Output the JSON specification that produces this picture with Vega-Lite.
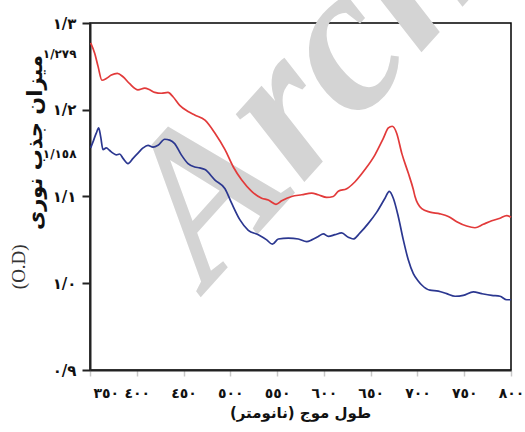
{
  "$schema": "https://vega.github.io/schema/vega-lite/v6.json",
  "autosize": {"type": "none"},
  "padding": {"left": 90, "top": 23, "right": 14, "bottom": 62},
  "width": 421,
  "height": 347,
  "background": "white",
  "config": {
    "view": {"stroke": "black", "strokeWidth": 1.5},
    "font": "DejaVu Sans"
  },
  "datasets": {
    "spectra": [
      {"nm": 350.7, "od": 1.277, "s": "a"}, {"nm": 355, "od": 1.265, "s": "a"}, {"nm": 358.6, "od": 1.25, "s": "a"}, {"nm": 362.8, "od": 1.234, "s": "a"}, {"nm": 367.4, "od": 1.236, "s": "a"}, {"nm": 372.8, "od": 1.24, "s": "a"}, {"nm": 379.2, "od": 1.242, "s": "a"}, {"nm": 385.3, "od": 1.238, "s": "a"}, {"nm": 392.4, "od": 1.23, "s": "a"}, {"nm": 401.3, "od": 1.223, "s": "a"}, {"nm": 408.5, "od": 1.225, "s": "a"}, {"nm": 413.8, "od": 1.223, "s": "a"}, {"nm": 419.2, "od": 1.22, "s": "a"}, {"nm": 426.2, "od": 1.219, "s": "a"}, {"nm": 433.4, "od": 1.22, "s": "a"}, {"nm": 438.7, "od": 1.215, "s": "a"}, {"nm": 445.9, "od": 1.205, "s": "a"}, {"nm": 454.8, "od": 1.198, "s": "a"}, {"nm": 461.9, "od": 1.194, "s": "a"}, {"nm": 472.9, "od": 1.188, "s": "a"}, {"nm": 483.6, "od": 1.173, "s": "a"}, {"nm": 494.3, "od": 1.154, "s": "a"}, {"nm": 503.2, "od": 1.134, "s": "a"}, {"nm": 512.2, "od": 1.119, "s": "a"}, {"nm": 522.8, "od": 1.106, "s": "a"}, {"nm": 533.5, "od": 1.098, "s": "a"}, {"nm": 540.6, "od": 1.096, "s": "a"}, {"nm": 548.8, "od": 1.091, "s": "a"}, {"nm": 554.9, "od": 1.095, "s": "a"}, {"nm": 565.6, "od": 1.1, "s": "a"}, {"nm": 576.3, "od": 1.102, "s": "a"}, {"nm": 587, "od": 1.104, "s": "a"}, {"nm": 594, "od": 1.102, "s": "a"}, {"nm": 603, "od": 1.099, "s": "a"}, {"nm": 610, "od": 1.1, "s": "a"}, {"nm": 615.4, "od": 1.106, "s": "a"}, {"nm": 624.4, "od": 1.109, "s": "a"}, {"nm": 633.3, "od": 1.117, "s": "a"}, {"nm": 643.9, "od": 1.131, "s": "a"}, {"nm": 654.6, "od": 1.148, "s": "a"}, {"nm": 663.5, "od": 1.167, "s": "a"}, {"nm": 668.9, "od": 1.179, "s": "a"}, {"nm": 673.1, "od": 1.181, "s": "a"}, {"nm": 677.8, "od": 1.173, "s": "a"}, {"nm": 683.2, "od": 1.15, "s": "a"}, {"nm": 690.2, "od": 1.127, "s": "a"}, {"nm": 695.6, "od": 1.108, "s": "a"}, {"nm": 697.4, "od": 1.1, "s": "a"}, {"nm": 704.6, "od": 1.086, "s": "a"}, {"nm": 713.4, "od": 1.082, "s": "a"}, {"nm": 724.1, "od": 1.08, "s": "a"}, {"nm": 733, "od": 1.077, "s": "a"}, {"nm": 742, "od": 1.071, "s": "a"}, {"nm": 752.6, "od": 1.066, "s": "a"}, {"nm": 761.5, "od": 1.064, "s": "a"}, {"nm": 770.4, "od": 1.068, "s": "a"}, {"nm": 779.4, "od": 1.072, "s": "a"}, {"nm": 788.3, "od": 1.075, "s": "a"}, {"nm": 795.4, "od": 1.078, "s": "a"}, {"nm": 800, "od": 1.076, "s": "a"},
      {"nm": 350.7, "od": 1.156, "s": "b"}, {"nm": 353.2, "od": 1.163, "s": "b"}, {"nm": 356.7, "od": 1.173, "s": "b"}, {"nm": 359.3, "od": 1.179, "s": "b"}, {"nm": 361.4, "od": 1.169, "s": "b"}, {"nm": 363.9, "od": 1.154, "s": "b"}, {"nm": 367.4, "od": 1.156, "s": "b"}, {"nm": 371.1, "od": 1.153, "s": "b"}, {"nm": 374.6, "od": 1.15, "s": "b"}, {"nm": 378.1, "od": 1.148, "s": "b"}, {"nm": 381.7, "od": 1.149, "s": "b"}, {"nm": 385.3, "od": 1.144, "s": "b"}, {"nm": 390.6, "od": 1.138, "s": "b"}, {"nm": 396, "od": 1.144, "s": "b"}, {"nm": 401.3, "od": 1.15, "s": "b"}, {"nm": 406.7, "od": 1.156, "s": "b"}, {"nm": 412, "od": 1.159, "s": "b"}, {"nm": 417.3, "od": 1.157, "s": "b"}, {"nm": 422.7, "od": 1.159, "s": "b"}, {"nm": 429.8, "od": 1.166, "s": "b"}, {"nm": 435.2, "od": 1.165, "s": "b"}, {"nm": 440.5, "od": 1.161, "s": "b"}, {"nm": 447.6, "od": 1.148, "s": "b"}, {"nm": 454.8, "od": 1.138, "s": "b"}, {"nm": 461.9, "od": 1.134, "s": "b"}, {"nm": 467.3, "od": 1.133, "s": "b"}, {"nm": 472.9, "od": 1.131, "s": "b"}, {"nm": 483.6, "od": 1.119, "s": "b"}, {"nm": 494.3, "od": 1.109, "s": "b"}, {"nm": 501.5, "od": 1.092, "s": "b"}, {"nm": 510.3, "od": 1.073, "s": "b"}, {"nm": 519.2, "od": 1.061, "s": "b"}, {"nm": 529.9, "od": 1.056, "s": "b"}, {"nm": 538.9, "od": 1.05, "s": "b"}, {"nm": 544.9, "od": 1.045, "s": "b"}, {"nm": 551.3, "od": 1.051, "s": "b"}, {"nm": 562, "od": 1.052, "s": "b"}, {"nm": 572.7, "od": 1.051, "s": "b"}, {"nm": 581.6, "od": 1.048, "s": "b"}, {"nm": 587, "od": 1.05, "s": "b"}, {"nm": 594, "od": 1.054, "s": "b"}, {"nm": 599.4, "od": 1.057, "s": "b"}, {"nm": 604.7, "od": 1.054, "s": "b"}, {"nm": 611.9, "od": 1.056, "s": "b"}, {"nm": 619, "od": 1.058, "s": "b"}, {"nm": 626.1, "od": 1.053, "s": "b"}, {"nm": 631.4, "od": 1.051, "s": "b"}, {"nm": 638.6, "od": 1.058, "s": "b"}, {"nm": 647.5, "od": 1.069, "s": "b"}, {"nm": 656.5, "od": 1.082, "s": "b"}, {"nm": 665.3, "od": 1.098, "s": "b"}, {"nm": 669.9, "od": 1.106, "s": "b"}, {"nm": 674.2, "od": 1.098, "s": "b"}, {"nm": 679.5, "od": 1.077, "s": "b"}, {"nm": 684.9, "od": 1.05, "s": "b"}, {"nm": 690.2, "od": 1.027, "s": "b"}, {"nm": 695.6, "od": 1.011, "s": "b"}, {"nm": 700.6, "od": 1.003, "s": "b"}, {"nm": 704.6, "od": 0.998, "s": "b"}, {"nm": 713.4, "od": 0.992, "s": "b"}, {"nm": 722.3, "od": 0.991, "s": "b"}, {"nm": 731.3, "od": 0.988, "s": "b"}, {"nm": 740.2, "od": 0.985, "s": "b"}, {"nm": 749, "od": 0.986, "s": "b"}, {"nm": 759.7, "od": 0.99, "s": "b"}, {"nm": 768.7, "od": 0.988, "s": "b"}, {"nm": 779.4, "od": 0.986, "s": "b"}, {"nm": 788.3, "od": 0.985, "s": "b"}, {"nm": 795.4, "od": 0.981, "s": "b"}, {"nm": 800, "od": 0.981, "s": "b"}
    ],
    "marks": [{"label": "Archive"}],
    "unit": [{"label": "(O.D)"}]
  },
  "layer": [
    {
      "data": {"name": "marks"},
      "mark": {"type": "text", "font": "Liberation Serif", "fontWeight": "bold", "fontStyle": "italic", "fontSize": 210, "angle": 312, "align": "left", "baseline": "alphabetic", "color": "#d4d4d4"},
      "encoding": {
        "x": {"datum": 476, "type": "quantitative", "scale": {"domain": [350, 800]}},
        "y": {"datum": 0.993, "type": "quantitative", "scale": {"domain": [0.9, 1.3]}},
        "text": {"field": "label"}
      }
    },
    {
      "data": {"name": "spectra"},
      "mark": {"type": "line", "strokeWidth": 1.7, "interpolate": "monotone"},
      "encoding": {
        "x": {
          "field": "nm", "type": "quantitative",
          "scale": {"domain": [350, 800], "nice": false},
          "axis": {
            "values": [350, 400, 450, 500, 550, 600, 650, 700, 750, 800],
            "labelExpr": "datum.value==350?'٣٥٠':datum.value==400?'٤٠٠':datum.value==450?'٤٥٠':datum.value==500?'٥٠٠':datum.value==550?'٥٥٠':datum.value==600?'٦٠٠':datum.value==650?'٦٥٠':datum.value==700?'٧٠٠':datum.value==750?'٧٥٠':'٨٠٠'",
            "labelFlush": false,
            "labelAlign": {"condition": {"test": "datum.value==350", "value": "left"}, "value": "center"},
            "labelOffset": {"condition": {"test": "datum.value==350", "value": 3}, "value": 0},
            "labelFont": "DejaVu Sans", "labelFontWeight": "bold", "labelFontSize": 14, "labelColor": "#111",
            "labelPadding": 10,
            "tickColor": "#c8c8c8", "tickSize": 6, "tickWidth": 1.5,
            "domainColor": "#222", "domainWidth": 2,
            "grid": false,
            "title": "\u200Fطول موج (نانومتر)\u200F",
            "titleFont": "DejaVu Sans", "titleFontWeight": "bold", "titleFontSize": 15, "titleColor": "#111",
            "titleX": 210, "titleY": 42, "titleBaseline": "middle", "titleAlign": "center"
          }
        },
        "y": {
          "field": "od", "type": "quantitative",
          "scale": {"domain": [0.9, 1.3], "nice": false, "zero": false},
          "axis": {
            "values": [0.9, 1.0, 1.1, 1.15, 1.2, 1.265, 1.3],
            "labelExpr": "datum.value<0.95?'٠/٩':datum.value<1.05?'١/٠':datum.value<1.12?'١/١':datum.value<1.17?'١/١٥٨':datum.value<1.23?'١/٢':datum.value<1.28?'١/٢٧٩':'١/٣'",
            "labelFont": "DejaVu Sans", "labelFontWeight": "bold", "labelColor": "#111",
            "labelFontSize": {"condition": {"test": "abs(datum.value-1.15)<0.001||abs(datum.value-1.265)<0.001", "value": 12}, "value": 15},
            "labelPadding": 6,
            "tickOpacity": {"condition": {"test": "abs(datum.value-1.15)<0.001||abs(datum.value-1.265)<0.001", "value": 0}, "value": 1},
            "tickColor": "#222", "tickSize": 8, "tickWidth": 2,
            "domainColor": "#222", "domainWidth": 2,
            "grid": false,
            "title": "میزان جذب نوری",
            "titleFont": "DejaVu Sans", "titleFontWeight": "bold", "titleFontSize": 21, "titleColor": "#111",
            "titleAngle": 270, "titleX": -55, "titleY": 119, "titleBaseline": "middle", "titleAlign": "center"
          }
        },
        "color": {
          "field": "s", "type": "nominal",
          "scale": {"domain": ["a", "b"], "range": ["#e23a3a", "#2b3790"]},
          "legend": null
        }
      }
    },
    {
      "data": {"name": "unit"},
      "mark": {"type": "text", "font": "Liberation Serif", "fontSize": 19, "angle": 270, "align": "center", "baseline": "middle", "color": "#333"},
      "encoding": {
        "x": {"datum": 274, "type": "quantitative"},
        "y": {"datum": 1.019, "type": "quantitative"},
        "text": {"field": "label"}
      }
    }
  ]
}
